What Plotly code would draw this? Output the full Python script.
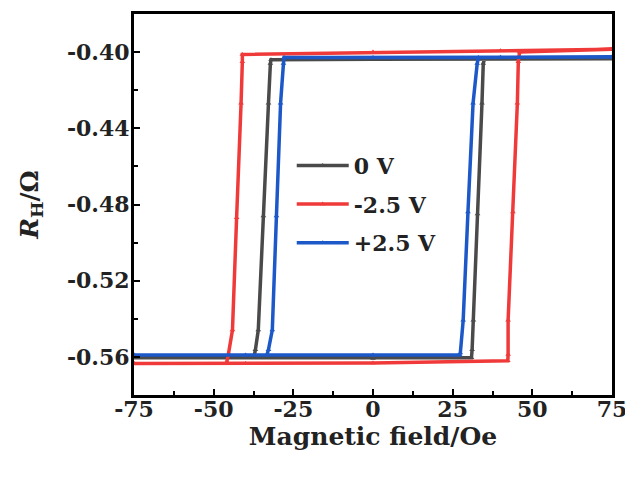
import plotly.graph_objects as go

# ---------------- data ----------------
# 0 V
black_down_H = [75, 40, 0, -32.0, -32.2, -32.8, -34.4, -36.0, -36.9, -37.4, -75]
black_down_R = [-0.4035, -0.4035, -0.4038, -0.4040, -0.4060, -0.4268, -0.4860, -0.5459, -0.5562, -0.5605, -0.5605]
black_up_H = [-75, -40, 0, 30.9, 31.1, 31.5, 32.8, 34.2, 34.6, 35.0, 75]
black_up_R = [-0.5605, -0.5605, -0.5608, -0.5605, -0.5562, -0.5408, -0.4850, -0.4268, -0.4060, -0.4035, -0.4035]

# -2.5 V
red_down_H = [75, 40, 0, -41.0, -41.0, -41.4, -42.8, -44.1, -45.4, -46.0, -75]
red_down_R = [-0.3985, -0.3993, -0.4000, -0.4012, -0.4050, -0.4268, -0.4870, -0.5459, -0.5588, -0.5635, -0.5635]
red_up_H = [-75, -40, 0, 42.3, 42.4, 42.4, 43.9, 45.3, 45.6, 46.0, 75]
red_up_R = [-0.5635, -0.5635, -0.5632, -0.5620, -0.5588, -0.5408, -0.4840, -0.4268, -0.4050, -0.4000, -0.3985]

# +2.5 V
blue_down_H = [75, 40, 0, -27.9, -28.1, -29.0, -30.3, -31.6, -32.8, -33.3, -75]
blue_down_R = [-0.4026, -0.4027, -0.4028, -0.4028, -0.4060, -0.4268, -0.4860, -0.5459, -0.5562, -0.5590, -0.5590]
blue_up_H = [-75, -40, 0, 27.2, 27.4, 28.3, 29.8, 31.4, 32.7, 33.1, 75]
blue_up_R = [-0.5590, -0.5590, -0.5590, -0.5590, -0.5580, -0.5408, -0.4840, -0.4268, -0.4060, -0.4028, -0.4026]

series_names = ["0 V", "-2.5 V", "+2.5 V"]
series_colors = ["#4a4a4a", "#f03a3a", "#1c58c8"]

x_tickvals = [-75, -50, -25, 0, 25, 50, 75]
x_ticktext = ["-75", "-50", "-25", "0", "25", "50", "75"]
y_tickvals = [-0.40, -0.44, -0.48, -0.52, -0.56]
y_ticktext = ["-0.40", "-0.44", "-0.48", "-0.52", "-0.56"]

# ---------------- figure ----------------
fig = go.Figure()

loops = [
    (black_down_H + black_up_H, black_down_R + black_up_R),
    (red_down_H + red_up_H, red_down_R + red_up_R),
    (blue_down_H + blue_up_H, blue_down_R + blue_up_R),
]

for (hx, ry), name, col in zip(loops, series_names, series_colors):
    fig.add_trace(go.Scatter(
        x=hx, y=ry, name=name, legendgroup=name, mode="lines+markers",
        line=dict(color=col, width=3.5),
        marker=dict(color=col, size=5, symbol="triangle-up"),
    ))

serif = "DejaVu Serif, Liberation Serif, serif"
txt = "#222222"

# page body has an 8px default margin; size the figure so the plot box
# lands at the reference position inside the 633x477 window
fig.update_layout(
    width=625, height=469,
    margin=dict(l=126, r=21, t=3, b=82),
    paper_bgcolor="white", plot_bgcolor="white",
    showlegend=True,
    legend=dict(
        x=0.33, y=0.657, xanchor="left", yanchor="top",
        bgcolor="rgba(0,0,0,0)",
        font=dict(family=serif, size=22, color=txt, weight="bold"),
        tracegroupgap=7, itemwidth=52,
    ),
)

fig.update_xaxes(
    range=[-75, 75], tickvals=x_tickvals, ticktext=x_ticktext,
    showgrid=False, zeroline=False,
    showline=True, linecolor="black", linewidth=3, mirror=True,
    ticks="inside", ticklen=6, tickwidth=2, tickcolor="black",
    minor=dict(dtick=12.5, tick0=-75, ticks="inside", ticklen=4, tickwidth=2, tickcolor="black"),
    tickfont=dict(family=serif, size=22, color=txt, weight="bold"),
    ticklabelstandoff=-7,
    title=dict(text="Magnetic field/Oe", standoff=2,
               font=dict(family=serif, size=25, color=txt, weight="bold")),
)

fig.update_yaxes(
    range=[-0.58, -0.38], tickvals=y_tickvals, ticktext=y_ticktext,
    showgrid=False, zeroline=False,
    showline=True, linecolor="black", linewidth=3, mirror=True,
    ticks="inside", ticklen=6, tickwidth=2, tickcolor="black",
    minor=dict(dtick=0.02, tick0=-0.40, ticks="inside", ticklen=4, tickwidth=2, tickcolor="black"),
    tickfont=dict(family=serif, size=22, color=txt, weight="bold"),
    ticklabelstandoff=-3,
    title=dict(text="<i>R</i><sub>H</sub>/Ω", standoff=22,
               font=dict(family=serif, size=25, color=txt, weight="bold")),
)

fig.write_html("out.html")
